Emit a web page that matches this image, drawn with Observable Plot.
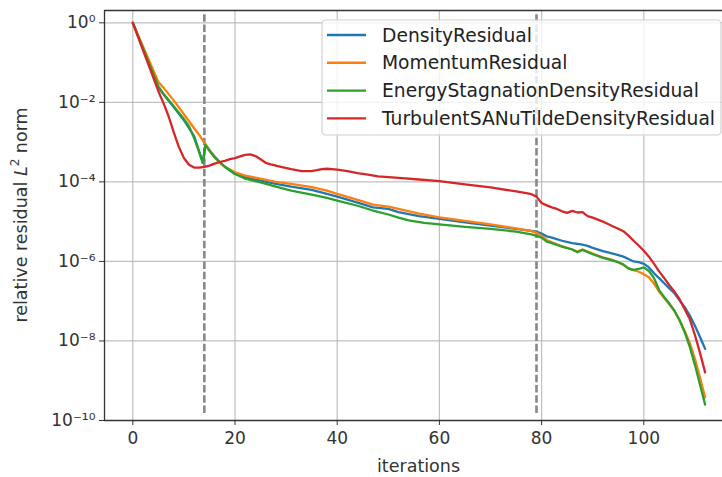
<!DOCTYPE html>
<html><head><meta charset="utf-8">
<script src="https://cdn.jsdelivr.net/npm/d3@7"></script>
<script src="https://cdn.jsdelivr.net/npm/@observablehq/plot@0.6"></script>
<style>
body{margin:0;background:#fff;}
#chart svg{display:block;}
</style>
</head><body><div id="chart"></div>
<script>
// log10 of the relative residual L2 norm
const densityIter = [0,5,6,8,10,12,13.7,14.2,15,16,17,18,20,22,25,28,31,35,38,40,44,47,50,52,56,60,65,70,75,78,79,80,81,82,84,86,88,89,90,92,93,95,96,97,98,99,100,101,102,103,104,105,106,107,108,109,110,111,112];
const densityLog = [0,-1.62,-1.80,-2.12,-2.45,-2.85,-3.52,-3.05,-3.20,-3.36,-3.50,-3.62,-3.80,-3.88,-3.97,-4.05,-4.12,-4.20,-4.30,-4.37,-4.52,-4.64,-4.68,-4.76,-4.86,-4.93,-5.02,-5.10,-5.18,-5.23,-5.25,-5.30,-5.37,-5.40,-5.48,-5.54,-5.58,-5.61,-5.66,-5.74,-5.77,-5.84,-5.88,-5.94,-6.00,-6.02,-6.06,-6.15,-6.30,-6.42,-6.55,-6.68,-6.80,-6.98,-7.15,-7.36,-7.62,-7.90,-8.20];

const momentumIter = [0,5,6,8,10,12,13,13.9,15,16,17,18,20,22,25,28,31,35,38,40,44,47,50,52,56,60,65,70,75,78,79,80,81,82,84,86,87,88,90,92,94,95,96,97,98,99,100,101,102,103,104,105,106,107,108,109,110,111,112];
const momentumLog = [0,-1.49,-1.63,-1.95,-2.30,-2.65,-2.82,-3.00,-3.20,-3.38,-3.52,-3.62,-3.76,-3.84,-3.92,-4.00,-4.05,-4.13,-4.22,-4.30,-4.45,-4.57,-4.62,-4.68,-4.80,-4.89,-4.98,-5.07,-5.17,-5.24,-5.28,-5.36,-5.46,-5.52,-5.62,-5.70,-5.75,-5.70,-5.80,-5.90,-5.97,-6.02,-6.08,-6.17,-6.22,-6.26,-6.32,-6.40,-6.56,-6.76,-6.92,-7.08,-7.25,-7.48,-7.75,-8.05,-8.45,-8.92,-9.42];

const energyIter = [0,5,6,8,10,11,12,13,13.7,14.2,15,16,17,18,20,22,25,28,31,35,38,40,44,47,50,52,54,57,60,65,70,75,78,79,80,81,82,84,86,87,88,90,92,94,95,96,97,98,99,100,101,102,103,104,105,106,107,108,109,110,111,112];
const energyLog = [0,-1.60,-1.78,-2.10,-2.42,-2.60,-2.90,-3.25,-3.52,-3.07,-3.22,-3.38,-3.50,-3.62,-3.80,-3.92,-4.01,-4.12,-4.22,-4.32,-4.40,-4.47,-4.60,-4.72,-4.82,-4.90,-4.97,-5.03,-5.07,-5.13,-5.18,-5.25,-5.32,-5.36,-5.40,-5.50,-5.54,-5.63,-5.70,-5.77,-5.71,-5.82,-5.91,-5.98,-6.02,-6.08,-6.18,-6.21,-6.19,-6.15,-6.24,-6.42,-6.72,-6.90,-7.06,-7.24,-7.48,-7.78,-8.15,-8.60,-9.10,-9.60];

const turbulentIter = [0,5,6,7,8,9,10,11,12,13,14,15,16,17,18,19,20,21,22,23,24,25,26,27,29,31,33,35,37,38,40,42,44,46,48,52,56,60,65,70,75,77,78,79,80,81,82,83,84,85,86,87,88,89,90,91,92,93,94,95,96,97,98,99,100,101,102,103,104,105,106,107,108,109,110,111,112];
const turbulentLog = [0,-1.72,-2.02,-2.35,-2.75,-3.12,-3.40,-3.57,-3.64,-3.64,-3.62,-3.59,-3.54,-3.50,-3.47,-3.43,-3.40,-3.36,-3.32,-3.31,-3.35,-3.43,-3.52,-3.56,-3.62,-3.68,-3.73,-3.73,-3.68,-3.67,-3.69,-3.73,-3.78,-3.82,-3.86,-3.90,-3.94,-3.98,-4.06,-4.14,-4.24,-4.28,-4.31,-4.37,-4.53,-4.59,-4.64,-4.68,-4.74,-4.78,-4.73,-4.77,-4.76,-4.86,-4.90,-4.95,-5.00,-5.06,-5.12,-5.18,-5.24,-5.35,-5.48,-5.60,-5.73,-5.88,-6.06,-6.25,-6.42,-6.60,-6.76,-6.95,-7.20,-7.45,-7.85,-8.30,-8.79];

const seriesNames = ["DensityResidual","MomentumResidual","EnergyStagnationDensityResidual","TurbulentSANuTildeDensityResidual"];
const seriesColors = ["#1f77b4","#ff7f0e","#2ca02c","#d62728"];
const phaseBreaks = [14, 79];
const xTicks = [0,20,40,60,80,100];
const yTicks = [1e0,1e-2,1e-4,1e-6,1e-8,1e-10];
const yTickLabels = ["10\u2070","10\u207B\u00B2","10\u207B\u2074","10\u207B\u2076","10\u207B\u2078","10\u207B\u00B9\u2070"];
const xLabel = "iterations";
const xDomain = [-5.54, 115.4];
const yDomain = [1e-10, 2.04];

const seriesIters = [densityIter, momentumIter, energyIter, turbulentIter];
const seriesLogs = [densityLog, momentumLog, energyLog, turbulentLog];
const rows = [];
seriesNames.forEach((name, s) => {
  seriesIters[s].forEach((it, i) => rows.push({series: name, iter: it, value: Math.pow(10, seriesLogs[s][i])}));
});

const W = 722, H = 477, ML = 104, MR = 0, MT = 10, MB = 57;
const font = "DejaVu Sans";
const ink = "#333";

const chart = Plot.plot({
  width: W, height: H,
  marginLeft: ML, marginRight: MR, marginTop: MT, marginBottom: MB,
  style: {fontFamily: font, fontSize: "17px", color: ink, background: "#fff", overflow: "visible"},
  x: {domain: xDomain},
  y: {type: "log", domain: yDomain},
  color: {domain: seriesNames, range: seriesColors},
  marks: [
    Plot.gridX(xTicks, {stroke: "#b0b0b0", strokeOpacity: 0.8, strokeWidth: 1.2}),
    Plot.gridY(yTicks, {stroke: "#b0b0b0", strokeOpacity: 0.8, strokeWidth: 1.2}),
    Plot.ruleX(phaseBreaks, {stroke: "#888", strokeWidth: 2.6, strokeDasharray: "7.5,2.8", y1: 1.6, y2: 1.3e-10}),
    Plot.line(rows, {x: "iter", y: "value", z: "series", stroke: "series", strokeWidth: 2.3, strokeLinejoin: "round"}),
    Plot.ruleX([xDomain[0]], {stroke: ink, strokeWidth: 1.3}),
    Plot.ruleY([yDomain[0], yDomain[1]], {stroke: ink, strokeWidth: 1.3}),
    Plot.axisX(xTicks, {tickSize: 5, tickPadding: 6, label: null, stroke: ink, fill: ink, fontSize: 17}),
    Plot.axisY(yTicks, {tickSize: 5, tickPadding: 4, label: null, stroke: ink, fill: ink, fontSize: 17,
      tickFormat: d => yTickLabels[yTicks.indexOf(d)]})
  ]
});

const svg = d3.select(chart);
// x axis label
svg.append("text").attr("x", 418.5).attr("y", 467).attr("text-anchor", "middle")
  .attr("dominant-baseline", "middle").attr("font-family", font).attr("font-size", 17.5)
  .attr("fill", ink).text(xLabel);
// y axis label with italic L and superscript 2
const yl = svg.append("text").attr("transform", "translate(22,215) rotate(-90)")
  .attr("text-anchor", "middle").attr("dominant-baseline", "middle")
  .attr("font-family", font).attr("font-size", 17.5).attr("fill", ink);
yl.append("tspan").text("relative residual ");
yl.append("tspan").attr("font-style", "italic").text("L");
yl.append("tspan").attr("font-size", 12).attr("dy", -7).text("2");
yl.append("tspan").attr("dy", 7).text(" norm");

// legend
const lg = svg.append("g");
lg.append("rect").attr("x", 322).attr("y", 20).attr("width", 399).attr("height", 115)
  .attr("rx", 4).attr("fill", "#fff").attr("fill-opacity", 0.8).attr("stroke", "#d0d0d0").attr("stroke-width", 1.2);
seriesNames.forEach((name, i) => {
  const cy = 35 + i * 27.8;
  lg.append("line").attr("x1", 327).attr("x2", 366).attr("y1", cy).attr("y2", cy)
    .attr("stroke", seriesColors[i]).attr("stroke-width", 2.4);
  lg.append("text").attr("x", 382).attr("y", cy).attr("text-anchor", "start").attr("dominant-baseline", "central")
    .attr("font-family", font).attr("font-size", 18.7).attr("fill", "#222").text(name);
});

document.getElementById("chart").appendChild(chart);
</script>
</body></html>
